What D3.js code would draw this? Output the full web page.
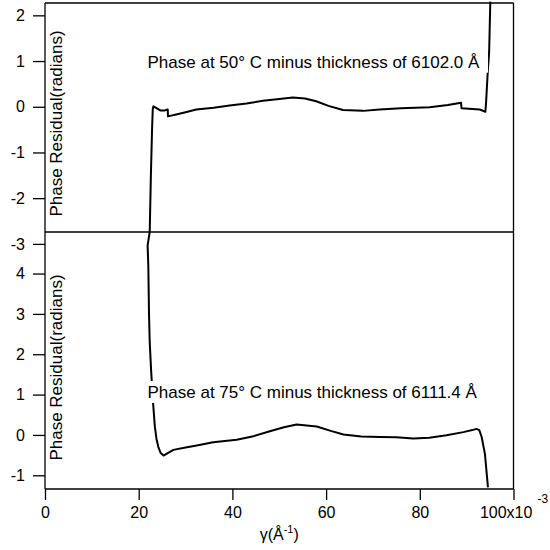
<!DOCTYPE html>
<html>
<head>
<meta charset="utf-8">
<script src="https://cdn.jsdelivr.net/npm/d3@7"></script>
<style>
  html, body { margin: 0; padding: 0; background: #fff; }
  svg { display: block; }
  text { font-family: "Liberation Sans", Arial, Helvetica, sans-serif; }
</style>
</head>
<body>
<svg id="chart" width="550" height="550"></svg>
<script>
// ---- data ----
const xTickValues = [0, 20, 40, 60, 80, 100];
const topTickValues = [-3, -2, -1, 0, 1, 2];
const botTickValues = [-1, 0, 1, 2, 3, 4];

// Phase at 50 °C minus thickness of 6102.0 Å
const topGamma = [22.35, 22.6, 22.85, 23.0, 23.15, 23.8, 24.6, 25.6, 26.2, 26.25, 28.0, 30.0, 32.3, 36.0, 39.4, 43.0, 46.5, 50.0, 52.9, 55.5, 57.9, 60.5, 63.6, 67.9, 71.4, 76.0, 82.1, 86.0, 88.8, 88.9, 92.8, 94.0, 94.15, 94.5, 94.8, 95.05];
const topPhase = [-2.74, -1.5, -0.5, -0.05, 0.01, -0.03, -0.08, -0.08, -0.06, -0.21, -0.17, -0.12, -0.06, -0.02, 0.03, 0.07, 0.13, 0.17, 0.2, 0.18, 0.12, 0.02, -0.07, -0.09, -0.06, -0.03, -0.01, 0.04, 0.09, -0.03, -0.06, -0.11, 0.1, 0.76, 1.2, 2.3];

// Phase at 75 °C minus thickness of 6111.4 Å
const botGamma = [22.35, 21.9, 22.05, 22.2, 22.35, 22.65, 23.0, 23.45, 23.8, 24.2, 24.7, 25.3, 26.2, 27.4, 30.0, 32.4, 35.9, 40.9, 44.5, 48.0, 51.0, 53.7, 58.0, 61.0, 63.7, 67.5, 71.5, 75.0, 78.6, 82.0, 85.7, 89.3, 91.2, 92.1, 92.7, 93.2, 93.9, 94.55];
const botPhase = [5.03, 4.7, 4.2, 3.0, 2.3, 1.6, 0.9, 0.2, -0.1, -0.3, -0.45, -0.51, -0.45, -0.37, -0.31, -0.26, -0.18, -0.12, -0.03, 0.09, 0.19, 0.26, 0.21, 0.1, 0.01, -0.04, -0.05, -0.06, -0.09, -0.07, -0.01, 0.07, 0.12, 0.15, 0.12, -0.05, -0.47, -1.3];

const topLabel = "Phase at 50° C minus thickness of 6102.0 Å";
const botLabel = "Phase at 75° C minus thickness of 6111.4 Å";
const yTitle = "Phase Residual(radians)";

// ---- layout ----
const FS = 16;     // tick labels
const FS_T = 17;   // annotations and titles
const svg = d3.select("#chart");
const x = d3.scaleLinear().domain([0, 100]).range([45, 513.5]);
const yTop = d3.scaleLinear().domain([-2.74, 2.27]).range([232, 3]);
const yBot = d3.scaleLinear().domain([-1.34, 5.03]).range([489, 232]);

const xL = x.range()[0], xR = x.range()[1];
const yT = yTop.range()[1], yM = yTop.range()[0], yB = yBot.range()[0];

// curves
const lineTop = d3.line().x(d => x(d[0])).y(d => yTop(d[1]));
const lineBot = d3.line().x(d => x(d[0])).y(d => yBot(d[1]));
svg.append("path").datum(topGamma.map((g, i) => [g, topPhase[i]]))
  .attr("d", lineTop).attr("fill", "none").attr("stroke", "#000").attr("stroke-width", 2).attr("stroke-linejoin", "round");
svg.append("path").datum(botGamma.map((g, i) => [g, botPhase[i]]))
  .attr("d", lineBot).attr("fill", "none").attr("stroke", "#000").attr("stroke-width", 2).attr("stroke-linejoin", "round");

// annotations with opaque background
function annotate(txt, xPos, baseline) {
  const g = svg.append("g");
  const rect = g.append("rect").attr("fill", "#fff");
  const t = g.append("text").attr("x", xPos).attr("y", baseline)
    .attr("font-size", FS_T).attr("fill", "#000").text(txt);
  const bb = t.node().getBBox();
  rect.attr("x", bb.x - 2).attr("y", baseline - 17).attr("width", bb.width + 10).attr("height", 22);
}
annotate(topLabel, 147.5, 67.7);
annotate(botLabel, 147.5, 398);

// frame lines
const frame = svg.append("g").attr("stroke", "#000").attr("stroke-width", 1.3).attr("fill", "none");
frame.append("line").attr("x1", xL).attr("x2", xR).attr("y1", yT).attr("y2", yT);
frame.append("line").attr("x1", xR).attr("x2", xR).attr("y1", yT).attr("y2", yB);
frame.append("line").attr("x1", xL).attr("x2", xR).attr("y1", yM).attr("y2", yM);
frame.append("line").attr("x1", xL).attr("x2", xL).attr("y1", yT).attr("y2", yB);
frame.append("line").attr("x1", xL).attr("x2", xR).attr("y1", yB).attr("y2", yB);

// axes
function styleAxis(g) {
  g.select(".domain").remove();
  g.selectAll(".tick line").attr("stroke", "#000").attr("stroke-width", 1.3);
  g.selectAll(".tick text").attr("fill", "#000").attr("font-size", FS)
    .attr("font-family", '"Liberation Sans", Arial, sans-serif');
}
svg.append("g").attr("transform", `translate(${xL},0)`)
  .call(d3.axisLeft(yTop).tickValues(topTickValues).tickSize(12).tickPadding(8).tickFormat(d => String(d)))
  .call(styleAxis);
svg.append("g").attr("transform", `translate(${xL},0)`)
  .call(d3.axisLeft(yBot).tickValues(botTickValues).tickSize(12).tickPadding(8).tickFormat(d => String(d)))
  .call(styleAxis);
const xg = svg.append("g").attr("transform", `translate(0,${yB})`)
  .call(d3.axisBottom(x).tickValues(xTickValues).tickSize(11).tickPadding(7).tickFormat(d => d === 100 ? "100x10" : String(d)))
  .call(styleAxis);
xg.selectAll(".tick text").filter(d => d === 100)
  .append("tspan").attr("font-size", 12).attr("dx", 5).attr("dy", -15).text("-3");

// axis titles
svg.append("text").attr("transform", `translate(62,${(yT + yM) / 2 + 6}) rotate(-90)`)
  .attr("text-anchor", "middle").attr("font-size", FS_T).text(yTitle);
svg.append("text").attr("transform", `translate(62,${(yM + yB) / 2 + 7}) rotate(-90)`)
  .attr("text-anchor", "middle").attr("font-size", FS_T).text(yTitle);

const xt = svg.append("text").attr("x", (xL + xR) / 2).attr("y", 540)
  .attr("text-anchor", "middle").attr("font-size", FS)
  .attr("font-family", '"Liberation Serif", "Times New Roman", serif');
xt.append("tspan").text("γ(Å");
xt.append("tspan").attr("font-size", 11).attr("dy", -7).text("-1");
xt.append("tspan").attr("dy", 7).text(")");
</script>
</body>
</html>
